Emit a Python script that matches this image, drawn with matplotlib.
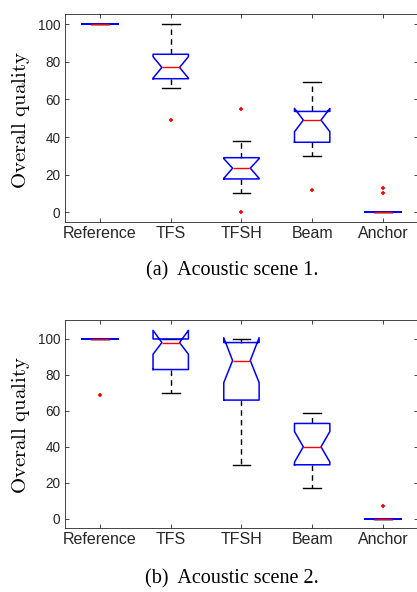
import matplotlib
matplotlib.use('Agg')
import matplotlib.pyplot as plt

# categories
methods = ['Reference', 'TFS', 'TFSH', 'Beam', 'Anchor']

# scene 1 box statistics
s1_med = [100, 77, 23.4, 49, 0]
s1_q1 = [100, 71, 17.7, 37.2, 0]
s1_q3 = [100, 84, 29, 53.6, 0]
s1_whislo = [100, 66, 10, 30, 0]
s1_whishi = [100, 100, 38, 69, 0]
s1_cilo = [100, 71.3, 18, 42.8, 0]
s1_cihi = [100, 82.7, 28.5, 55.2, 0]
s1_fliers = [[], [49], [55, 0], [12], [13, 10]]

# scene 2 box statistics
s2_med = [100, 98, 88, 40, 0]
s2_q1 = [100, 83, 66, 30, 0]
s2_q3 = [100, 100, 98, 53, 0]
s2_whislo = [100, 70, 30, 17, 0]
s2_whishi = [100, 100, 100, 59, 0]
s2_cilo = [100, 91.5, 75.7, 31.5, 0]
s2_cihi = [100, 104.8, 100.7, 48.5, 0]
s2_fliers = [[69], [], [], [], [7]]

yticks = [0, 20, 40, 60, 80, 100]


def make_stats(med, q1, q3, wlo, whi, cilo, cihi, fliers):
    stats = []
    for i in range(len(methods)):
        stats.append({'med': med[i], 'q1': q1[i], 'q3': q3[i],
                      'whislo': wlo[i], 'whishi': whi[i],
                      'cilo': cilo[i], 'cihi': cihi[i],
                      'fliers': fliers[i], 'label': methods[i]})
    return stats


def draw(ax, stats, ylim):
    ax.bxp(stats, positions=range(1, 6), widths=0.5, shownotches=True, capwidths=0.25,
           boxprops=dict(color='blue', lw=1.1, zorder=3),
           medianprops=dict(color='red', lw=1.0, zorder=4),
           whiskerprops=dict(color='black', lw=1.0, ls=(0, (4, 3))),
           capprops=dict(color='black', lw=1.0),
           flierprops=dict(marker='+', markeredgecolor='red', markersize=3.5, mew=1.2))
    ax.set_xlim(0.5, 5.5)
    ax.set_ylim(*ylim)
    ax.set_yticks(yticks)
    ax.set_xticks(range(1, 6))
    ax.set_xticklabels(methods)
    ax.tick_params(direction='in', length=3, width=0.6, color='#262626',
                   top=True, right=True, pad=3)
    ax.tick_params(axis='x', labelsize=11.5)
    ax.tick_params(axis='y', labelsize=9.8)
    for lab in ax.get_xticklabels() + ax.get_yticklabels():
        lab.set_family('Liberation Sans')
        lab.set_color('#262626')
    for sp in ax.spines.values():
        sp.set_color('#262626')
        sp.set_linewidth(0.6)


plt.rcParams['mathtext.fontset'] = 'cm'
fig = plt.figure(figsize=(4.17, 5.92), dpi=100)

ax1 = fig.add_axes([0.155, 0.625, 0.848, 0.351])
draw(ax1, make_stats(s1_med, s1_q1, s1_q3, s1_whislo, s1_whishi, s1_cilo, s1_cihi, s1_fliers), (-5.2, 105.3))

ax2 = fig.add_axes([0.155, 0.108, 0.848, 0.351])
draw(ax2, make_stats(s2_med, s2_q1, s2_q3, s2_whislo, s2_whishi, s2_cilo, s2_cihi, s2_fliers), (-5.2, 110.4))

for ycen in [1 - 120 / 592, 1 - 425 / 592]:
    fig.text(21 / 417, ycen, r'$\mathrm{Overall\ quality}$', rotation=90,
             ha='center', va='center', fontsize=15)

fig.text(0.557, 1 - 271 / 592, '(a)  Acoustic scene 1.', ha='center', va='center',
         fontsize=14.5, family='Liberation Serif')
fig.text(0.557, 1 - 579 / 592, '(b)  Acoustic scene 2.', ha='center', va='center',
         fontsize=14.5, family='Liberation Serif')

fig.savefig('out.png', dpi=100)
